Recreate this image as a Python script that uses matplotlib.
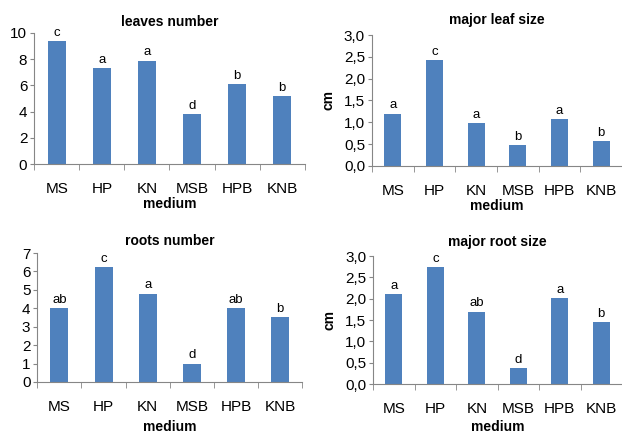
import numpy as np
import matplotlib.pyplot as plt

# datos de los cuatro paneles
medios = ["MS", "HP", "KN", "MSB", "HPB", "KNB"]
hojas_num = [9.4, 7.3, 7.9, 3.8, 6.1, 5.2]
hojas_let = ["c", "a", "a", "d", "b", "b"]
hoja_tam = [1.2, 2.43, 0.99, 0.48, 1.07, 0.56]
hoja_tam_let = ["a", "c", "a", "b", "a", "b"]
raices_num = [4.0, 6.25, 4.8, 1.0, 4.0, 3.5]
raices_let = ["ab", "c", "a", "d", "ab", "b"]
raiz_tam = [2.12, 2.75, 1.7, 0.38, 2.02, 1.45]
raiz_tam_let = ["a", "c", "ab", "d", "a", "b"]

plt.rcParams['font.family'] = ['Liberation Sans', 'DejaVu Sans']
azul = '#4F81BD'
gris = '#868686'

fig = plt.figure(figsize=(6.22, 4.34), dpi=100)

# posicion, valores, letras, titulo, etiqueta y, max, paso, decimal, pad titulo, pad xlabel
paneles = [
    ([0.055, 0.622, 0.435, 0.302], hojas_num, hojas_let, "leaves number", None, 10, 2, False, 5, 1),
    ([0.598, 0.618, 0.402, 0.301], hoja_tam, hoja_tam_let, "major leaf size", "cm", 3.0, 0.5, True, 8, 1),
    ([0.060, 0.120, 0.426, 0.297], raices_num, raices_let, "roots number", None, 7, 1, False, 6, 4.5),
    ([0.600, 0.115, 0.400, 0.295], raiz_tam, raiz_tam_let, "major root size", "cm", 3.0, 0.5, True, 7, 3),
]

for pos, valores, letras, titulo, ylab, ymax, paso, decimal, tpad, xpad in paneles:
    ax = fig.add_axes(pos)
    x = np.arange(len(medios))
    ax.bar(x, valores, width=0.41, color=azul)
    for xi, v, l in zip(x, valores, letras):
        ax.annotate(l, (xi, v), xytext=(0, 1.5), textcoords='offset points',
                    ha='center', va='bottom', fontsize=9.5)
    ax.set_xlim(-0.5, len(medios) - 0.5)
    ax.set_ylim(0, ymax)
    ticks = np.arange(0, ymax + paso / 2, paso)
    ax.set_yticks(ticks)
    if decimal:
        ax.set_yticklabels([f"{t:.1f}".replace('.', ',') for t in ticks])
    else:
        ax.set_yticklabels([f"{t:g}" for t in ticks])
    ax.set_xticks(x)
    ax.set_xticklabels(medios)
    ax.set_xticks(np.arange(-0.5, len(medios)), minor=True)
    ax.tick_params(axis='x', which='major', length=0, pad=13, labelsize=11)
    ax.tick_params(axis='x', which='minor', length=4, color=gris)
    ax.tick_params(axis='y', length=3, color=gris, labelsize=11, pad=2)
    for s in ['top', 'right']:
        ax.spines[s].set_visible(False)
    for s in ['left', 'bottom']:
        ax.spines[s].set_color(gris)
    ax.set_title(titulo, fontsize=10, fontweight='bold', pad=tpad)
    ax.set_xlabel("medium", fontsize=10, fontweight='bold', labelpad=xpad)
    if ylab:
        ax.set_ylabel(ylab, fontsize=10, fontweight='bold', labelpad=6)

fig.savefig("out.png", dpi=100)
plt.close()
